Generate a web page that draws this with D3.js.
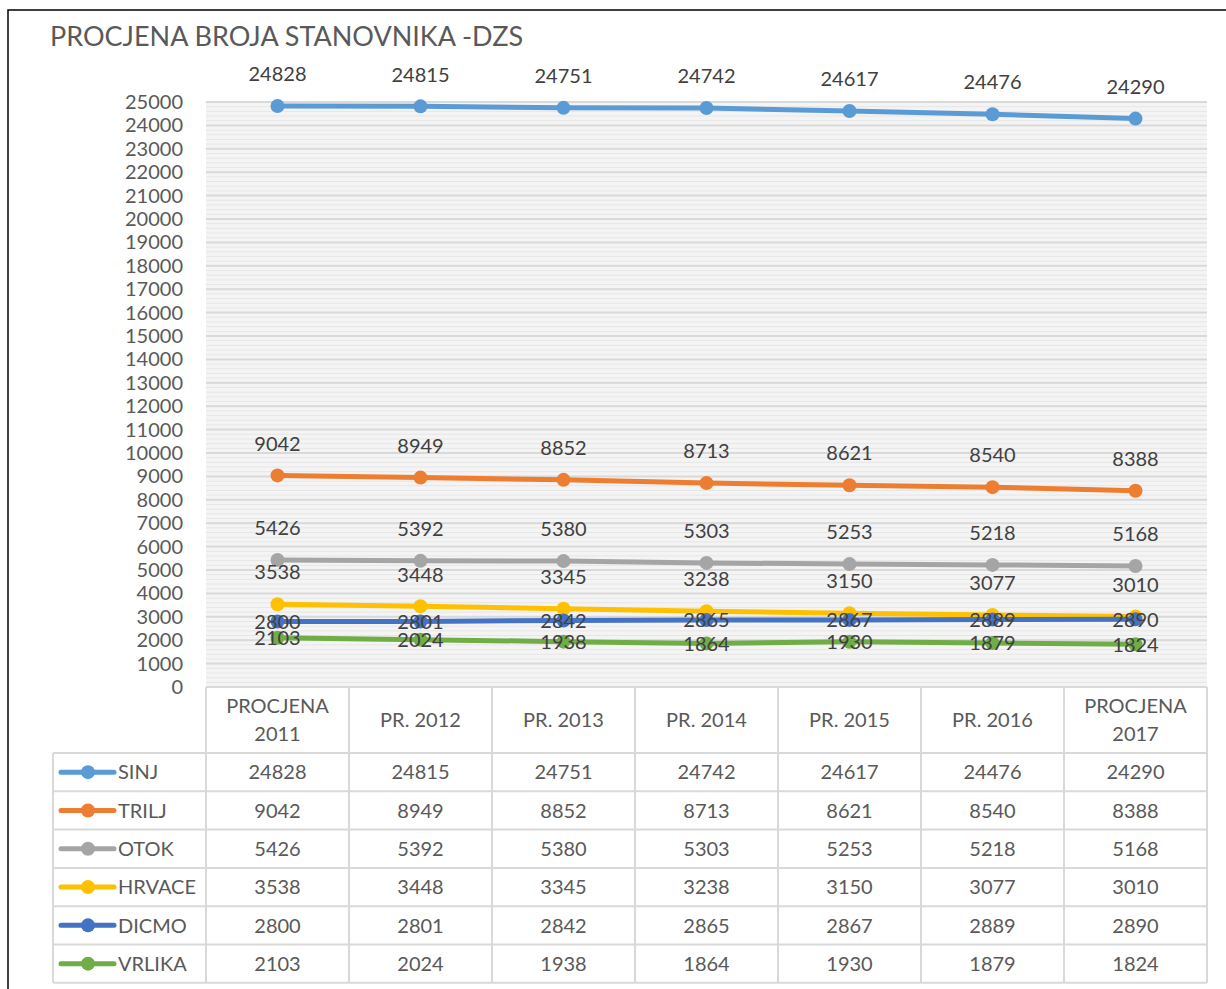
<!DOCTYPE html>
<html>
<head>
<meta charset="utf-8">
<script src="https://cdn.jsdelivr.net/npm/d3@7"></script>
<style>
  body { margin: 0; background: #fff; }
  svg { font-family: Lato, "Open Sans", sans-serif; }
</style>
</head>
<body>
<div class="chart"></div>
<script>
// data
const categories = ["PROCJENA 2011", "PR. 2012", "PR. 2013", "PR. 2014", "PR. 2015", "PR. 2016", "PROCJENA 2017"];
const seriesNames = ["SINJ", "TRILJ", "OTOK", "HRVACE", "DICMO", "VRLIKA"];
const sinj   = [24828, 24815, 24751, 24742, 24617, 24476, 24290];
const trilj  = [9042, 8949, 8852, 8713, 8621, 8540, 8388];
const otok   = [5426, 5392, 5380, 5303, 5253, 5218, 5168];
const hrvace = [3538, 3448, 3345, 3238, 3150, 3077, 3010];
const dicmo  = [2800, 2801, 2842, 2865, 2867, 2889, 2890];
const vrlika = [2103, 2024, 1938, 1864, 1930, 1879, 1824];
const yTicks = d3.range(0, 25001, 1000);

const colors = ["#5b9bd5", "#ed7d31", "#a5a5a5", "#ffc000", "#4472c4", "#70ad47"];
const labelAbove = [true, true, true, true, false, false];

const series = seriesNames.map((name, i) => ({
    name: name,
    values: [sinj, trilj, otok, hrvace, dicmo, vrlika][i],
    color: colors[i],
    above: labelAbove[i]
}));

const width = 1226, height = 989;
const plot = {left: 206, right: 1207, top: 102, bottom: 687};

const svg = d3.select(".chart").append("svg")
    .attr("width", width)
    .attr("height", height);

// outer border
svg.append("rect")
    .attr("x", 8).attr("y", 10)
    .attr("width", 1240).attr("height", 1000)
    .attr("fill", "none")
    .attr("stroke", "#000")
    .attr("stroke-width", 1.5);

// title
svg.append("text")
    .attr("x", 50).attr("y", 46)
    .attr("font-size", 27)
    .attr("fill", "#595959")
    .text("PROCJENA BROJA STANOVNIKA -DZS");

const x = d3.scalePoint().domain(categories).range([plot.left, plot.right]).padding(0.5);
const xb = d3.scaleBand().domain(categories).range([plot.left, plot.right]);
const y = d3.scaleLinear().domain([0, 25000]).range([plot.bottom, plot.top]);

// plot background + gridlines
svg.append("rect")
    .attr("x", plot.left).attr("y", plot.top)
    .attr("width", plot.right - plot.left).attr("height", plot.bottom - plot.top)
    .attr("fill", "#f4f4f4");

svg.append("g").selectAll("line")
    .data(d3.range(0, 25000, 200))
    .enter().append("line")
    .attr("x1", plot.left).attr("x2", plot.right)
    .attr("y1", d => y(d)).attr("y2", d => y(d))
    .attr("stroke", "#e6e6e6")
    .attr("stroke-width", 1);

svg.append("g").selectAll("line")
    .data(yTicks)
    .enter().append("line")
    .attr("x1", plot.left).attr("x2", plot.right)
    .attr("y1", d => y(d)).attr("y2", d => y(d))
    .attr("stroke", "#d9d9d9")
    .attr("stroke-width", 2);

// y axis
const yAxis = svg.append("g")
    .attr("transform", `translate(${plot.left},0)`)
    .call(d3.axisLeft(y).tickValues(yTicks).tickSize(0).tickPadding(23).tickFormat(d3.format("d")));
yAxis.select(".domain").remove();
yAxis.selectAll("text")
    .attr("font-family", "Lato, sans-serif")
    .attr("font-size", 20)
    .attr("fill", "#595959");

// lines
const line = d3.line()
    .x((d, i) => x(categories[i]))
    .y(d => y(d));

const sg = svg.selectAll(".series")
    .data(series)
    .enter().append("g")
    .attr("class", "series");

sg.append("path")
    .attr("d", d => line(d.values))
    .attr("fill", "none")
    .attr("stroke", d => d.color)
    .attr("stroke-width", 5)
    .attr("stroke-linecap", "round");

sg.selectAll("circle")
    .data(d => d.values.map(v => ({v: v, color: d.color})))
    .enter().append("circle")
    .attr("cx", (d, i) => x(categories[i]))
    .attr("cy", d => y(d.v))
    .attr("r", 7)
    .attr("fill", d => d.color);

// data labels
svg.selectAll(".labels")
    .data(series)
    .enter().append("g")
    .selectAll("text")
    .data(d => d.values.map(v => ({v: v, above: d.above})))
    .enter().append("text")
    .attr("x", (d, i) => x(categories[i]))
    .attr("y", d => y(d.v) + (d.above ? -32 : 0))
    .attr("dy", "0.36em")
    .attr("text-anchor", "middle")
    .attr("font-size", 20)
    .attr("fill", "#404040")
    .text(d => d.v);

// data table
const headTop = plot.bottom, headBottom = 753, rowH = 38.3;
const tableLeft = 53;
const grid = svg.append("g")
    .attr("stroke", "#d9d9d9")
    .attr("stroke-width", 2)
    .attr("fill", "none");
const tableBottom = headBottom + rowH * series.length;

// horizontal lines
grid.append("line")
    .attr("x1", plot.left).attr("x2", plot.right)
    .attr("y1", headTop).attr("y2", headTop);
grid.selectAll(".hl")
    .data(d3.range(series.length + 1))
    .enter().append("line")
    .attr("x1", tableLeft).attr("x2", plot.right)
    .attr("y1", i => headBottom + i * rowH)
    .attr("y2", i => headBottom + i * rowH);
// vertical lines
grid.selectAll(".vl")
    .data(categories.concat(["end"]))
    .enter().append("line")
    .attr("x1", d => d === "end" ? plot.right : xb(d))
    .attr("x2", d => d === "end" ? plot.right : xb(d))
    .attr("y1", headTop).attr("y2", tableBottom);
grid.append("line")
    .attr("x1", tableLeft).attr("x2", tableLeft)
    .attr("y1", headBottom).attr("y2", tableBottom);

// header labels
const header = svg.append("g");
categories.forEach(c => {
    const parts = c.startsWith("PROCJENA") ? c.split(" ") : [c];
    const t = header.append("text")
        .attr("x", x(c))
        .attr("text-anchor", "middle")
        .attr("font-size", 20)
        .attr("fill", "#595959");
    parts.forEach((p, j) => {
        t.append("tspan")
            .attr("x", x(c))
            .attr("y", (headTop + headBottom) / 2 + (j - (parts.length - 1) / 2) * 28)
            .attr("dy", "0.36em")
            .text(p);
    });
});

// rows
const rows = svg.selectAll(".row")
    .data(series)
    .enter().append("g")
    .attr("transform", (d, i) => `translate(0,${headBottom + i * rowH + rowH / 2})`);

rows.append("line")
    .attr("x1", 61).attr("x2", 114)
    .attr("stroke", d => d.color)
    .attr("stroke-width", 5)
    .attr("stroke-linecap", "round");
rows.append("circle")
    .attr("cx", 88).attr("r", 7)
    .attr("fill", d => d.color);
rows.append("text")
    .attr("x", 118).attr("dy", "0.36em")
    .attr("font-size", 20)
    .attr("fill", "#595959")
    .text(d => d.name);

rows.selectAll(".val")
    .data(d => d.values)
    .enter().append("text")
    .attr("x", (d, i) => x(categories[i]))
    .attr("dy", "0.36em")
    .attr("text-anchor", "middle")
    .attr("font-size", 20)
    .attr("fill", "#595959")
    .text(d => d);
</script>
</body>
</html>
